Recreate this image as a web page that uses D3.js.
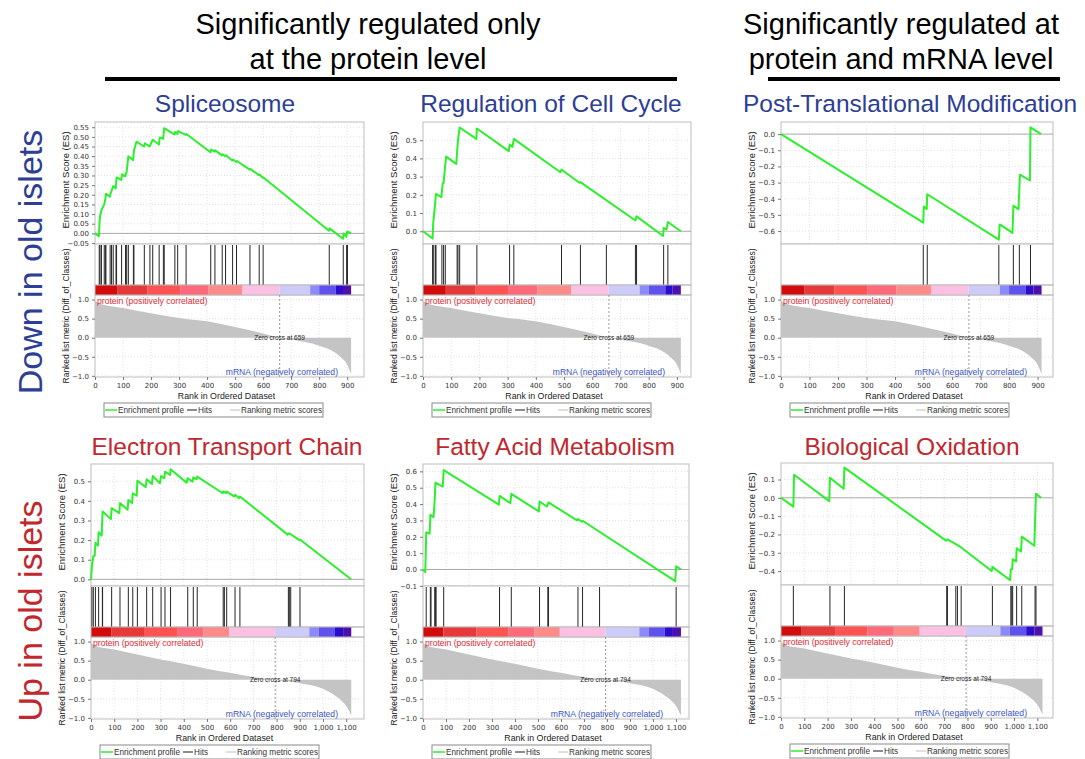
<!DOCTYPE html>
<html>
<head>
<meta charset="utf-8">
<script src="https://cdn.jsdelivr.net/npm/d3@7"></script>
<style>
  body { margin: 0; background: #fff; }
  svg text { font-family: "Liberation Sans", Arial, sans-serif; }
</style>
</head>
<body>
<div id="chart"></div>
<script>
// ---- text ----
const headerLeft = ["Significantly regulated only", "at the protein level"];
const headerRight = ["Significantly regulated at", "protein and mRNA level"];
const rowLabels = ["Down in old islets", "Up in old islets"];
const panelTitles = ["Spliceosome", "Regulation of Cell Cycle", "Post-Translational Modification",
                     "Electron Transport Chain", "Fatty Acid Metabolism", "Biological Oxidation"];
const legendLabels = ["Enrichment profile", "Hits", "Ranking metric scores"];

// ---- shared ranked lists (top row: down, bottom row: up) ----
const rankTicksDown = [0, 100, 200, 300, 400, 500, 600, 700, 800, 900];
const rankTicksUp = [0, 100, 200, 300, 400, 500, 600, 700, 800, 900, 1000, 1100];
const metricTicks = [1.0, 0.5, 0.0, -0.5, -1.0];
const zeroCrossDown = 659;
const zeroCrossUp = 794;

// [rank, metric]
const metricDown = [[0, 0.97], [15, 0.9], [100, 0.78], [200, 0.64], [300, 0.52], [400, 0.43], [500, 0.28],
                    [600, 0.11], [659, 0], [700, -0.05], [800, -0.21], [850, -0.36], [880, -0.53],
                    [900, -0.7], [914, -0.95]];
const metricUp = [[0, 0.97], [15, 0.9], [100, 0.79], [200, 0.66], [300, 0.53], [400, 0.42], [500, 0.29],
                  [600, 0.18], [700, 0.07], [794, 0], [900, -0.09], [1000, -0.24], [1050, -0.41],
                  [1080, -0.55], [1100, -0.68], [1122, -0.94]];

// colour bar segment edges (rank) and colours
const barEdgesDown = [0, 81, 187, 304, 405, 526, 658, 768, 800, 859, 885, 914];
const barEdgesUp = [0, 89, 232, 371, 484, 595, 794, 941, 981, 1052, 1087, 1122];
const barColors = ["#d20c0c", "#e63a3a", "#ff5252", "#ff6a7b", "#ff8a8a", "#fcc0e3",
                   "#cdcbf9", "#8a8af9", "#6052ee", "#2a0ccc", "#4c10ae"];

// ---- per gene set: hits (rank) and enrichment profile [rank, ES] ----
const spliceosomeHits = [15, 18, 23, 33, 37, 39, 54, 59, 65, 75, 77, 95, 109, 113, 119, 137, 139, 176, 196,
                         206, 229, 244, 247, 285, 295, 325, 413, 428, 454, 466, 491, 505, 553, 586, 600,
                         836, 886, 898, 901];
const spliceosomeES = [[0, 0], [14, -0.015], [16, 0.05], [18, 0.09], [23, 0.12], [33, 0.15], [37, 0.18],
  [39, 0.205], [53, 0.19], [55, 0.205], [59, 0.22], [65, 0.245], [74, 0.233], [77, 0.29], [94, 0.277],
  [96, 0.305], [108, 0.296], [113, 0.32], [119, 0.4], [136, 0.38], [139, 0.43], [148, 0.475],
  [175, 0.45], [178, 0.467], [195, 0.45], [206, 0.485], [228, 0.46], [231, 0.497], [243, 0.49],
  [247, 0.545], [284, 0.512], [286, 0.525], [294, 0.515], [296, 0.53], [324, 0.51], [326, 0.515],
  [412, 0.42], [414, 0.435], [427, 0.424], [429, 0.43], [453, 0.404], [455, 0.41], [465, 0.4],
  [467, 0.405], [490, 0.378], [492, 0.382], [504, 0.37], [506, 0.375], [552, 0.33], [554, 0.334],
  [585, 0.302], [587, 0.305], [599, 0.288], [601, 0.29], [835, 0.014], [837, 0.026], [885, -0.028],
  [887, 0.0], [897, -0.018], [900, 0.01], [914, 0.0]];
const spliceosomeTicks = [-0.05, 0.0, 0.05, 0.1, 0.15, 0.2, 0.25, 0.3, 0.35, 0.4, 0.45, 0.5, 0.55];

const cellCycleHits = [34, 38, 44, 46, 67, 73, 79, 121, 124, 130, 191, 307, 322, 491, 558, 650, 753, 757, 853, 868];
const cellCycleES = [[0, 0], [34, -0.04], [36, 0.04], [41, 0.12], [46, 0.205], [65, 0.187], [70, 0.265],
  [73, 0.265], [77, 0.333], [82, 0.41], [118, 0.37], [121, 0.44], [124, 0.5], [130, 0.57], [189, 0.507],
  [191, 0.564], [304, 0.44], [307, 0.476], [317, 0.463], [322, 0.507], [487, 0.324], [491, 0.339],
  [554, 0.266], [558, 0.27], [753, 0.059], [757, 0.082], [851, -0.026], [853, 0.018], [863, 0.009],
  [868, 0.051], [914, 0]];
const cellCycleTicks = [0.0, 0.1, 0.2, 0.3, 0.4, 0.5];

const ptmHits = [499, 513, 764, 815, 836, 875];
const ptmES = [[0, 0], [499, -0.548], [501, -0.448], [511, -0.464], [513, -0.372], [764, -0.653],
  [767, -0.559], [812, -0.611], [815, -0.444], [833, -0.464], [838, -0.251], [873, -0.287],
  [875, 0.042], [912, 0.0]];
const ptmTicks = [0.0, -0.1, -0.2, -0.3, -0.4, -0.5, -0.6];

const etcHits = [4, 10, 19, 33, 49, 50, 89, 125, 161, 180, 200, 240, 266, 302, 319, 343, 417, 441, 458,
                 570, 575, 585, 621, 642, 851, 855, 861, 901];
const etcES = [[0, 0], [4, 0.068], [10, 0.118], [16, 0.12], [19, 0.186], [30, 0.172], [33, 0.24],
  [46, 0.223], [50, 0.346], [86, 0.307], [89, 0.363], [122, 0.338], [125, 0.389], [158, 0.355],
  [161, 0.405], [177, 0.389], [180, 0.439], [197, 0.426], [200, 0.503], [236, 0.47], [240, 0.51],
  [263, 0.486], [266, 0.527], [297, 0.49], [302, 0.527], [316, 0.515], [319, 0.549], [341, 0.532],
  [343, 0.561], [412, 0.493], [417, 0.515], [438, 0.498], [441, 0.52], [455, 0.51], [458, 0.524],
  [568, 0.439], [570, 0.448], [582, 0.44], [585, 0.448], [618, 0.422], [621, 0.431], [639, 0.414],
  [642, 0.422], [848, 0.228], [855, 0.235], [898, 0.2], [901, 0.203], [1121, 0]];
const etcTicks = [0.0, 0.1, 0.2, 0.3, 0.4, 0.5];

const famHits = [14, 32, 35, 51, 54, 57, 90, 333, 384, 507, 543, 546, 674, 694, 768, 1101];
const famES = [[0, 0], [10, -0.016], [14, 0.227], [29, 0.219], [32, 0.335], [46, 0.32], [51, 0.43],
  [54, 0.531], [86, 0.507], [90, 0.608], [330, 0.396], [333, 0.45], [380, 0.406], [384, 0.462],
  [504, 0.355], [507, 0.416], [539, 0.385], [546, 0.41], [670, 0.3], [674, 0.308], [691, 0.292],
  [694, 0.298], [1097, -0.071], [1101, 0.02], [1122, 0]];
const famTicks = [-0.1, 0.0, 0.1, 0.2, 0.3, 0.4, 0.5, 0.6];

const boHits = [53, 210, 272, 711, 714, 750, 757, 773, 907, 986, 990, 994, 1011, 1033, 1090, 1094];
const boES = [[0, 0], [53, -0.048], [56, 0.126], [207, -0.018], [210, 0.11], [269, 0.049], [272, 0.165],
  [708, -0.234], [714, -0.227], [754, -0.256], [773, -0.271], [904, -0.4], [907, -0.377], [983, -0.45],
  [986, -0.39], [992, -0.39], [994, -0.335], [1009, -0.348], [1011, -0.275], [1030, -0.293],
  [1033, -0.212], [1087, -0.262], [1090, -0.125], [1094, 0.022], [1116, 0]];
const boTicks = [0.1, 0.0, -0.1, -0.2, -0.3, -0.4];

const blue = "#2d3e95";
const red = "#c1272d";

const svg = d3.select("#chart").append("svg")
    .attr("width", 1085)
    .attr("height", 759);

// ---- column headers ----
function drawHeader(lines, cx, x1, x2) {
    svg.append("g").selectAll("text")
        .data(lines)
        .enter()
        .append("text")
        .attr("x", cx)
        .attr("y", (d, i) => 34 + i * 35)
        .attr("text-anchor", "middle")
        .style("font-size", "29px")
        .attr("fill", "#000")
        .text(d => d);
    svg.append("line")
        .attr("x1", x1).attr("x2", x2)
        .attr("y1", 79).attr("y2", 79)
        .attr("stroke", "#000")
        .attr("stroke-width", 4);
}
drawHeader(headerLeft, 368, 105, 677);
drawHeader(headerRight, 901, 768, 1060);

// ---- row labels ----
svg.selectAll(".row-label")
    .data(rowLabels)
    .enter()
    .append("text")
    .attr("class", "row-label")
    .attr("transform", (d, i) => `translate(30,${i === 0 ? 262 : 611}) rotate(-90)`)
    .attr("text-anchor", "middle")
    .attr("dominant-baseline", "central")
    .style("font-size", "34px")
    .attr("fill", (d, i) => i === 0 ? blue : red)
    .text(d => d);

// ---- panels ----
const panels = [
    { title: panelTitles[0], color: blue, tx: 225, ty: 112, left: 95, top: 122, width: 269, xMax: 960,
      esDomain: [-0.055, 0.577], esTicks: spliceosomeTicks, fmt: ".2f", es: spliceosomeES, hits: spliceosomeHits, row: "down" },
    { title: panelTitles[1], color: blue, tx: 551, ty: 112, left: 423, top: 122, width: 268, xMax: 950,
      esDomain: [-0.07, 0.6], esTicks: cellCycleTicks, fmt: ".1f", es: cellCycleES, hits: cellCycleHits, row: "down" },
    { title: panelTitles[2], color: blue, tx: 910, ty: 112, left: 781, top: 122, width: 272, xMax: 954,
      esDomain: [-0.68, 0.075], esTicks: ptmTicks, fmt: ".1f", es: ptmES, hits: ptmHits, row: "down" },
    { title: panelTitles[3], color: red, tx: 227, ty: 455, left: 91, top: 464, width: 273, xMax: 1177,
      esDomain: [-0.034, 0.588], esTicks: etcTicks, fmt: ".1f", es: etcES, hits: etcHits, row: "up" },
    { title: panelTitles[4], color: red, tx: 555, ty: 455, left: 423, top: 464, width: 266, xMax: 1157,
      esDomain: [-0.101, 0.645], esTicks: famTicks, fmt: ".1f", es: famES, hits: famHits, row: "up" },
    { title: panelTitles[5], color: red, tx: 912, ty: 455, left: 781, top: 463, width: 272, xMax: 1167,
      esDomain: [-0.476, 0.19], esTicks: boTicks, fmt: ".1f", es: boES, hits: boHits, row: "up" }
];

function drawPanel(p) {
    const down = p.row === "down";
    const metric = down ? metricDown : metricUp;
    const edges = down ? barEdgesDown : barEdgesUp;
    const rankTicks = down ? rankTicksDown : rankTicksUp;
    const zeroCross = down ? zeroCrossDown : zeroCrossUp;

    const w = p.width;
    const esH = 122, hitsH = 41, barH = 10, rankH = 82;
    const barTop = esH + hitsH;
    const rankTop = barTop + barH;
    const rankBottom = rankTop + rankH;

    // title
    svg.append("text")
        .attr("x", p.tx)
        .attr("y", p.ty)
        .attr("text-anchor", "middle")
        .style("font-size", "24.5px")
        .attr("fill", p.color)
        .text(p.title);

    const g = svg.append("g").attr("transform", `translate(${p.left},${p.top})`);

    const x = d3.scaleLinear().domain([0, p.xMax]).range([0, w]);
    const yES = d3.scaleLinear().domain(p.esDomain).range([esH, 0]);
    const yRank = d3.scaleLinear().domain([-1.03, 1.12]).range([rankBottom, rankTop]);

    // frames
    g.append("rect").attr("x", 0).attr("y", 0).attr("width", w).attr("height", esH)
        .attr("fill", "#fff").attr("stroke", "#bdbdbd");
    g.append("rect").attr("x", 0).attr("y", esH).attr("width", w).attr("height", hitsH)
        .attr("fill", "#fff").attr("stroke", "#bdbdbd");
    g.append("rect").attr("x", 0).attr("y", rankTop).attr("width", w).attr("height", rankH)
        .attr("fill", "#fff").attr("stroke", "#bdbdbd");

    // grid lines
    const gridV = rankTicks.filter(d => d > 0);
    g.selectAll(".gv-es").data(gridV).enter().append("line")
        .attr("x1", d => x(d)).attr("x2", d => x(d))
        .attr("y1", 0).attr("y2", esH)
        .attr("stroke", "#e2e2e2").attr("stroke-dasharray", "1,2");
    g.selectAll(".gh-es").data(p.esTicks.filter(d => d !== 0)).enter().append("line")
        .attr("x1", 0).attr("x2", w)
        .attr("y1", d => yES(d)).attr("y2", d => yES(d))
        .attr("stroke", "#e2e2e2").attr("stroke-dasharray", "1,2");
    g.selectAll(".gv-rk").data(gridV).enter().append("line")
        .attr("x1", d => x(d)).attr("x2", d => x(d))
        .attr("y1", rankTop).attr("y2", rankBottom)
        .attr("stroke", "#e2e2e2").attr("stroke-dasharray", "1,2");
    g.selectAll(".gh-rk").data(metricTicks.filter(d => d !== 0)).enter().append("line")
        .attr("x1", 0).attr("x2", w)
        .attr("y1", d => yRank(d)).attr("y2", d => yRank(d))
        .attr("stroke", "#e2e2e2").attr("stroke-dasharray", "1,2");

    // ES zero line
    g.append("line")
        .attr("x1", 0).attr("x2", w)
        .attr("y1", yES(0)).attr("y2", yES(0))
        .attr("stroke", "#a8a8a8");

    // enrichment profile
    g.append("path")
        .datum(p.es)
        .attr("fill", "none")
        .attr("stroke", "#2cf02c")
        .attr("stroke-width", 2)
        .attr("stroke-linejoin", "round")
        .attr("d", d3.line().x(d => x(d[0])).y(d => yES(d[1])));

    // hits
    g.selectAll(".hit").data(p.hits).enter().append("line")
        .attr("x1", d => x(d)).attr("x2", d => x(d))
        .attr("y1", esH + 1).attr("y2", barTop)
        .attr("stroke", "#262626")
        .attr("stroke-width", 1);

    // colour bar
    g.selectAll(".seg").data(barColors).enter().append("rect")
        .attr("x", (d, i) => x(edges[i]))
        .attr("y", barTop)
        .attr("width", (d, i) => x(edges[i + 1]) - x(edges[i]))
        .attr("height", barH)
        .attr("fill", d => d);
    g.append("rect").attr("x", 0).attr("y", barTop).attr("width", w).attr("height", barH)
        .attr("fill", "none").attr("stroke", "#bdbdbd");

    // ranked metric
    g.append("path")
        .datum(metric)
        .attr("fill", "#c4c4c4")
        .attr("d", d3.area().x(d => x(d[0])).y0(yRank(0)).y1(d => yRank(d[1])).curve(d3.curveMonotoneX));

    g.append("line")
        .attr("x1", x(zeroCross)).attr("x2", x(zeroCross))
        .attr("y1", rankTop).attr("y2", rankBottom)
        .attr("stroke", "#9a9a9a").attr("stroke-dasharray", "2,2");

    g.append("text")
        .attr("x", x(zeroCross))
        .attr("y", yRank(0) + 2.5)
        .attr("text-anchor", "middle")
        .style("font-size", "6.5px")
        .attr("fill", "#222")
        .text("Zero cross at " + zeroCross);

    g.append("text")
        .attr("x", 2)
        .attr("y", rankTop + 9)
        .style("font-size", "8.6px")
        .attr("fill", "#dd2b35")
        .text("protein (positively correlated)");

    g.append("text")
        .attr("x", w - 26)
        .attr("y", rankBottom - 2)
        .attr("text-anchor", "end")
        .style("font-size", "8.6px")
        .attr("fill", "#3b54c6")
        .text("mRNA (negatively correlated)");

    // axes
    const esAxis = g.append("g")
        .call(d3.axisLeft(yES).tickValues(p.esTicks).tickFormat(d3.format(p.fmt)).tickSize(3));
    const rkAxis = g.append("g")
        .call(d3.axisLeft(yRank).tickValues(metricTicks).tickFormat(d3.format(".1f")).tickSize(3));
    const xAxis = g.append("g")
        .attr("transform", `translate(0,${rankBottom})`)
        .call(d3.axisBottom(x).tickValues(rankTicks).tickFormat(d3.format(",")).tickSize(3));
    [esAxis, rkAxis, xAxis].forEach(a => {
        a.select(".domain").remove();
        a.selectAll(".tick line").attr("stroke", "#777");
        a.selectAll("text")
            .style("font-size", "7px")
            .style("font-family", "'DejaVu Sans', sans-serif")
            .attr("fill", "#333");
    });

    // axis titles
    g.append("text")
        .attr("transform", `translate(-26,${esH / 2 - 3}) rotate(-90)`)
        .attr("text-anchor", "middle")
        .style("font-size", "9.5px")
        .attr("fill", "#222")
        .text("Enrichment Score (ES)");
    g.append("text")
        .attr("transform", `translate(-26,${esH + 72}) rotate(-90)`)
        .attr("text-anchor", "middle")
        .style("font-size", "8.5px")
        .attr("fill", "#222")
        .text("Ranked list metric (Diff_of_Classes)");
    g.append("text")
        .attr("x", w / 2 - 3)
        .attr("y", rankBottom + 22)
        .attr("text-anchor", "middle")
        .style("font-size", "8.8px")
        .attr("fill", "#222")
        .text("Rank in Ordered Dataset");

    // legend
    const lg = g.append("g").attr("transform", `translate(9,${rankBottom + 26})`);
    lg.append("rect").attr("width", 219).attr("height", 14)
        .attr("fill", "#fff").attr("stroke", "#8a8a8a");
    const items = [
        { x: 1, len: 12, color: "#2cf02c", label: legendLabels[0] },
        { x: 83, len: 10, color: "#666", label: legendLabels[1] },
        { x: 126, len: 10, color: "#d4d4d4", label: legendLabels[2] }
    ];
    items.forEach(it => {
        lg.append("line")
            .attr("x1", it.x).attr("x2", it.x + it.len)
            .attr("y1", 7).attr("y2", 7)
            .attr("stroke", it.color).attr("stroke-width", 1.5);
        lg.append("text")
            .attr("x", it.x + it.len + 1)
            .attr("y", 10)
            .style("font-size", "8.2px")
            .attr("fill", "#333")
            .text(it.label);
    });
}

panels.forEach(drawPanel);
</script>
</body>
</html>
